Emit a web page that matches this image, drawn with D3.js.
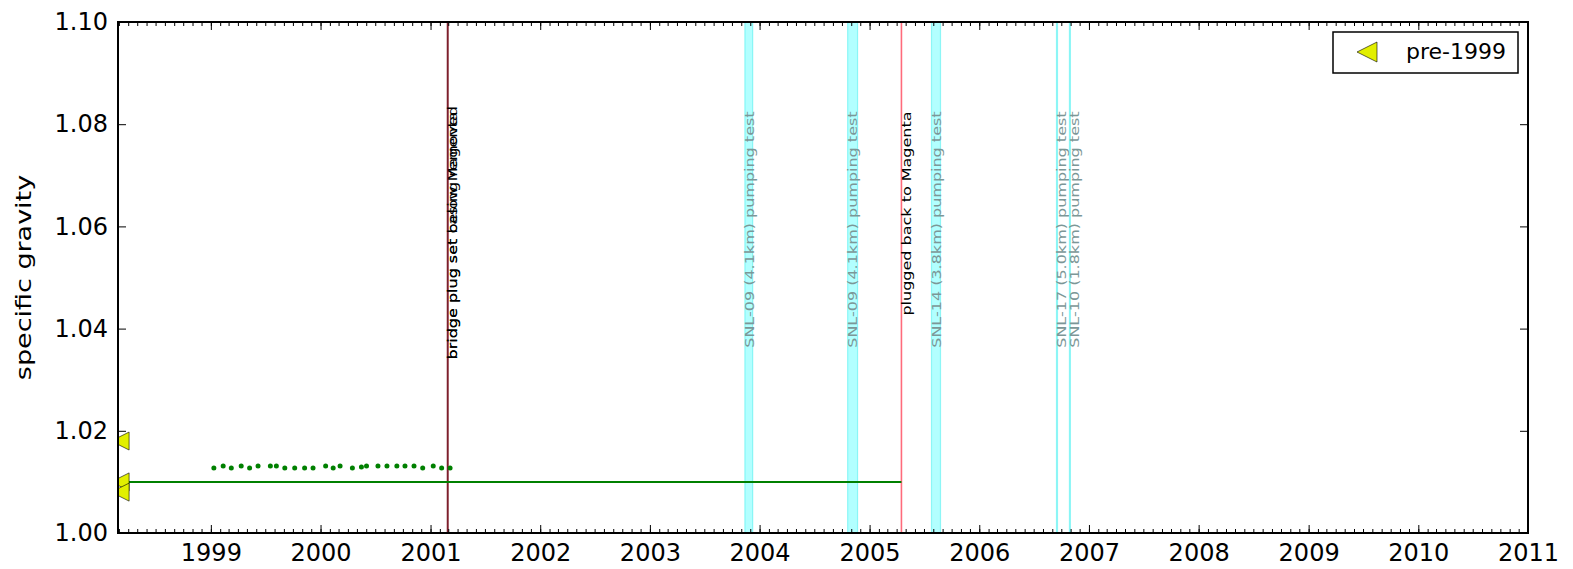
<!DOCTYPE html>
<html>
<head>
<meta charset="utf-8">
<script src="https://cdn.jsdelivr.net/npm/d3@7"></script>
<style>
  html, body { margin: 0; padding: 0; background: #fff; }
  svg { display: block; }
  text { font-family: "DejaVu Sans", sans-serif; }
</style>
</head>
<body>
<svg id="chart" width="1573" height="569"></svg>
<script>
// ---- data -------------------------------------------------------------
// monthly specific-gravity samples, 1999 - 2001
const sampleDates = [
  "1999-01-11", "1999-02-11", "1999-03-10", "1999-04-12", "1999-05-10", "1999-06-07",
  "1999-07-18", "1999-08-07", "1999-09-04", "1999-10-07", "1999-11-09", "1999-12-07",
  "2000-01-18", "2000-02-12", "2000-03-06", "2000-04-16", "2000-05-16", "2000-06-02",
  "2000-07-10", "2000-08-09", "2000-09-11", "2000-10-08", "2000-11-07", "2000-12-06",
  "2001-01-10", "2001-02-07", "2001-03-07"
];
const sampleValues = [
  1.0127, 1.0131, 1.0127, 1.0131, 1.0127, 1.0131,
  1.0131, 1.0131, 1.0127, 1.0127, 1.0127, 1.0127,
  1.0131, 1.0127, 1.0131, 1.0127, 1.0129, 1.0131,
  1.0131, 1.0131, 1.0131, 1.0131, 1.0131, 1.0127,
  1.0131, 1.0127, 1.0127
];

// pre-1999 measurements
const pre1999Dates = ["1998-03-05", "1998-03-05", "1998-03-05"];
const pre1999Values = [1.018, 1.010, 1.008];

// reference level used until the well was plugged back
const levelStart = "1998-02-26";
const levelEnd = "2005-04-17";
const levelValue = 1.010;

// well events (vertical lines); the first two share one date
const eventDates = ["2001-02-27", "2001-02-27", "2005-04-17"];
const eventLabels = [
  "bridge plug set below Magenta",
  "bridge plug set casing removed",
  "plugged back to Magenta"
];

// nearby pumping tests (shaded periods)
const testStarts = ["2003-11-13", "2004-10-20", "2005-07-26", "2006-09-15", "2006-10-28"];
const testEnds   = ["2003-12-09", "2004-11-22", "2005-08-25", "2006-09-18", "2006-10-31"];
const testLabels = [
  "SNL-09 (4.1km) pumping test",
  "SNL-09 (4.1km) pumping test",
  "SNL-14 (3.8km) pumping test",
  "SNL-17 (5.0km) pumping test",
  "SNL-10 (1.8km) pumping test"
];
const labelTopValue = 1.0825;

const xDomain = ["1998-02-26", "2011-01-01"];
const yDomain = [1.00, 1.10];
const yTickValues = [1.00, 1.02, 1.04, 1.06, 1.08, 1.10];
const legendLabel = "pre-1999";
const yLabel = "specific gravity";

// ---- layout -----------------------------------------------------------
const parse = d3.timeParse("%Y-%m-%d");
const plotLeft = 118, plotRight = 1528, plotTop = 22, plotBottom = 533;
const eventColors = ["#7d1f2c", "#7d1f2c", "#ff6b7b"];
const green = "#008000";
const yellow = "#e2ef00";
const squeeze = 0.76; // rotated labels are drawn narrower across the line

const svg = d3.select("#chart");
svg.append("rect").attr("width", 1573).attr("height", 569).attr("fill", "#fff");

const x = d3.scaleTime().domain(xDomain.map(parse)).range([plotLeft, plotRight]);
const y = d3.scaleLinear().domain(yDomain).range([plotBottom, plotTop]);

svg.append("clipPath").attr("id", "plot-clip")
  .append("rect").attr("x", plotLeft).attr("y", plotTop)
  .attr("width", plotRight - plotLeft).attr("height", plotBottom - plotTop);

const plot = svg.append("g").attr("clip-path", "url(#plot-clip)");

// pumping-test periods
plot.selectAll("rect.test").data(testStarts).join("rect")
  .attr("class", "test")
  .attr("x", (d) => x(parse(d)))
  .attr("y", plotTop)
  .attr("width", (d, i) => Math.max(x(parse(testEnds[i])) - x(parse(d)), 1))
  .attr("height", plotBottom - plotTop)
  .attr("fill", "#00ffff").attr("fill-opacity", 0.3)
  .attr("stroke", "#00e5e5").attr("stroke-opacity", 0.35).attr("stroke-width", 1.2);

// event lines
plot.selectAll("line.event").data(eventDates).join("line")
  .attr("class", "event")
  .attr("x1", (d) => x(parse(d))).attr("x2", (d) => x(parse(d)))
  .attr("y1", plotTop).attr("y2", plotBottom)
  .attr("stroke", (d, i) => eventColors[i]).attr("stroke-width", 1.6);

// reference level
plot.append("line")
  .attr("x1", x(parse(levelStart))).attr("x2", x(parse(levelEnd)))
  .attr("y1", y(levelValue)).attr("y2", y(levelValue))
  .attr("stroke", green).attr("stroke-width", 2);

// samples
plot.selectAll("circle.sample").data(sampleDates).join("circle")
  .attr("class", "sample")
  .attr("cx", (d) => x(parse(d)))
  .attr("cy", (d, i) => y(sampleValues[i]))
  .attr("r", 2.5)
  .attr("fill", green);

// left-pointing triangle marker
function triangleLeft(size) {
  const h = size / 2;
  return `M${-h},0L${h},${-h}L${h},${h}Z`;
}

plot.selectAll("path.pre").data(pre1999Dates).join("path")
  .attr("class", "pre")
  .attr("transform", (d, i) => `translate(${x(parse(d))},${y(pre1999Values[i])})`)
  .attr("d", triangleLeft(18))
  .attr("fill", yellow).attr("stroke", "#000").attr("stroke-width", 0.6);

// rotated annotations, read bottom to top, ending just below the 1.08 line
const labelTop = y(labelTopValue);
function rotatedLabel(xPos, yPos, anchor, text, color) {
  return svg.append("text")
    .attr("transform", `translate(${xPos + 9.5},${yPos}) scale(${squeeze},1) rotate(-90)`)
    .attr("text-anchor", anchor)
    .attr("font-size", 16)
    .attr("fill", color)
    .text(text);
}
// the two notes on the same date start from a common baseline point
const firstNote = rotatedLabel(x(parse(eventDates[0])), labelTop, "end", eventLabels[0], "#000");
const noteStart = labelTop + firstNote.node().getComputedTextLength();
rotatedLabel(x(parse(eventDates[1])), noteStart, "start", eventLabels[1], "#000");
rotatedLabel(x(parse(eventDates[2])), labelTop, "end", eventLabels[2], "#000");
testStarts.forEach((d, i) => rotatedLabel(x(parse(d)), labelTop, "end", testLabels[i], "#7c9797"));

// ---- axes ------------------------------------------------------------
const fmtYear = d3.timeFormat("%Y");
const majorX = d3.timeYear.every(1);

const xBottom = d3.axisBottom(x).ticks(majorX).tickFormat(fmtYear)
  .tickSizeInner(-8).tickSizeOuter(0).tickPadding(11);
svg.append("g").attr("transform", `translate(0,${plotBottom})`).call(xBottom)
  .call((g) => g.select(".domain").remove())
  .call((g) => g.selectAll("text").attr("font-size", 24).attr("fill", "#000"));

const xTop = d3.axisTop(x).ticks(majorX).tickFormat("")
  .tickSizeInner(-8).tickSizeOuter(0);
svg.append("g").attr("transform", `translate(0,${plotTop})`).call(xTop)
  .call((g) => g.select(".domain").remove());

const minorBottom = d3.axisBottom(x).ticks(d3.timeMonth.every(1)).tickFormat("")
  .tickSizeInner(-4).tickSizeOuter(0);
svg.append("g").attr("transform", `translate(0,${plotBottom})`).call(minorBottom)
  .call((g) => g.select(".domain").remove());
const minorTop = d3.axisTop(x).ticks(d3.timeMonth.every(1)).tickFormat("")
  .tickSizeInner(-4).tickSizeOuter(0);
svg.append("g").attr("transform", `translate(0,${plotTop})`).call(minorTop)
  .call((g) => g.select(".domain").remove());

const yLeft = d3.axisLeft(y).tickValues(yTickValues).tickFormat(d3.format(".2f"))
  .tickSizeInner(-8).tickSizeOuter(0).tickPadding(10);
svg.append("g").attr("transform", `translate(${plotLeft},0)`).call(yLeft)
  .call((g) => g.select(".domain").remove())
  .call((g) => g.selectAll("text").attr("font-size", 24).attr("fill", "#000"));

const yRight = d3.axisRight(y).tickValues(yTickValues).tickFormat("")
  .tickSizeInner(-8).tickSizeOuter(0);
svg.append("g").attr("transform", `translate(${plotRight},0)`).call(yRight)
  .call((g) => g.select(".domain").remove());

svg.selectAll(".tick line").attr("stroke", "#000").attr("stroke-width", 1);

// frame
svg.append("rect")
  .attr("x", plotLeft).attr("y", plotTop)
  .attr("width", plotRight - plotLeft).attr("height", plotBottom - plotTop)
  .attr("fill", "none").attr("stroke", "#000").attr("stroke-width", 2);

// y label
svg.append("text")
  .attr("transform", `translate(31,${(plotTop + plotBottom) / 2}) scale(0.8,1) rotate(-90)`)
  .attr("text-anchor", "middle")
  .attr("font-size", 27)
  .text(yLabel);

// ---- legend ----------------------------------------------------------
const legend = svg.append("g");
legend.append("rect")
  .attr("x", 1333).attr("y", 32).attr("width", 185).attr("height", 41)
  .attr("fill", "#fff").attr("stroke", "#000").attr("stroke-width", 1.5);
legend.append("path")
  .attr("transform", "translate(1367,52)")
  .attr("d", triangleLeft(20))
  .attr("fill", yellow).attr("stroke", "#000").attr("stroke-width", 0.6);
legend.append("text")
  .attr("x", 1406).attr("y", 59)
  .attr("font-size", 22)
  .text(legendLabel);
</script>
</body>
</html>
